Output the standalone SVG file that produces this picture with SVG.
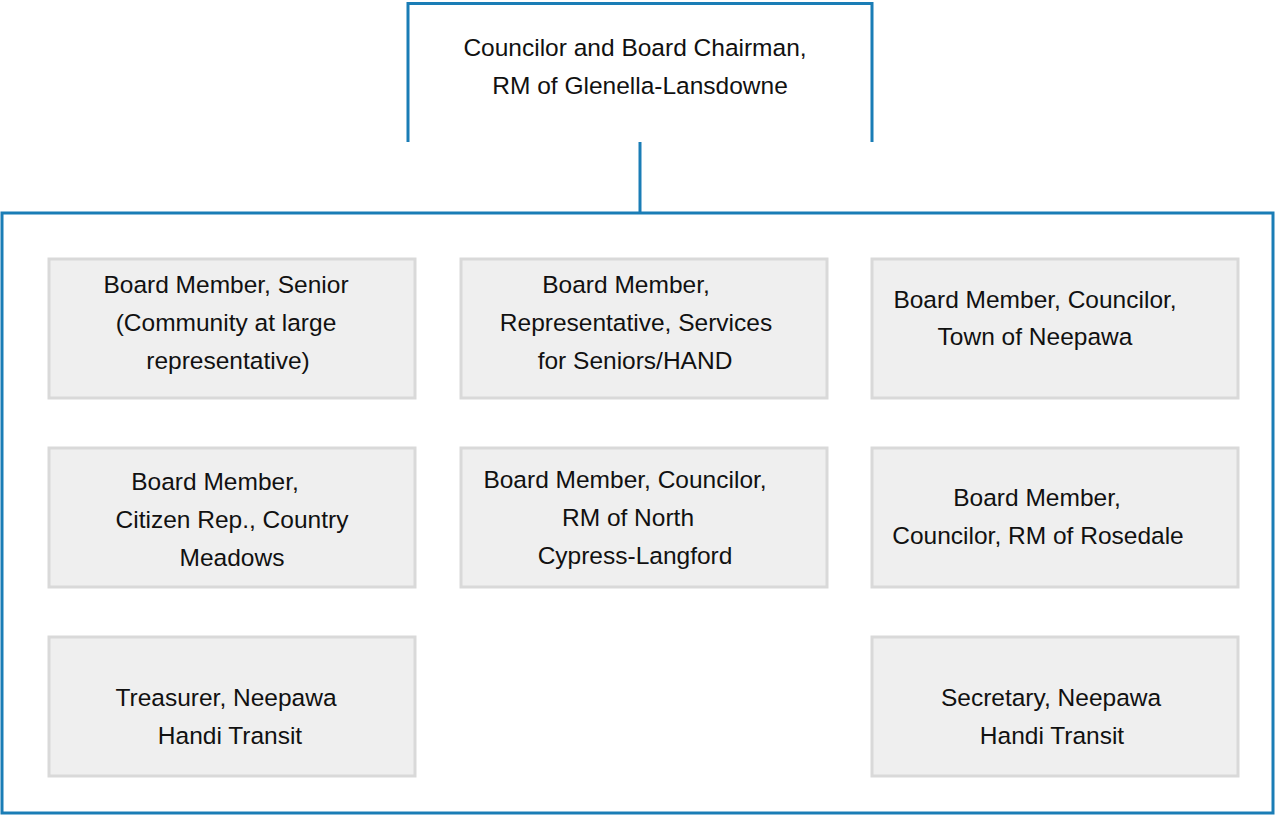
<svg xmlns="http://www.w3.org/2000/svg" width="1276" height="816" viewBox="0 0 1276 816">
  <style>
    .frame { fill: none; stroke: #1a7db6; stroke-width: 3; }
    .box { fill: #efefef; stroke: #d9d9d9; stroke-width: 3; }
    .lbl { font-family: "Liberation Sans", Arial, sans-serif; font-size: 24.5px; fill: #111; text-anchor: middle; }
  </style>
  <rect width="1276" height="816" fill="#ffffff"/>

  <!-- chairman bracket (open at the bottom) -->
  <g id="chairman">
    <path class="frame" d="M408,142 V3.5 H872 V142"/>
    <text class="lbl" x="635" y="56">Councilor and Board Chairman,</text>
    <text class="lbl" x="640" y="94">RM of Glenella-Lansdowne</text>
  </g>

  <g id="connectors">
    <line class="frame" x1="640" y1="142" x2="640" y2="213"/>
  </g>

  <!-- board frame -->
  <g id="board">
    <rect class="frame" x="2" y="213" width="1271" height="600"/>
  </g>

  <g id="member-senior">
    <rect class="box" x="49" y="259" width="366" height="139"/>
    <text class="lbl" x="226" y="293">Board Member, Senior</text>
    <text class="lbl" x="226" y="331">(Community at large</text>
    <text class="lbl" x="228" y="369">representative)</text>
  </g>

  <g id="member-services">
    <rect class="box" x="461" y="259" width="366" height="139"/>
    <text class="lbl" x="626" y="293">Board Member,</text>
    <text class="lbl" x="636" y="331">Representative, Services</text>
    <text class="lbl" x="635" y="369">for Seniors/HAND</text>
  </g>

  <g id="member-neepawa">
    <rect class="box" x="872" y="259" width="366" height="139"/>
    <text class="lbl" x="1035" y="308">Board Member, Councilor,</text>
    <text class="lbl" x="1035" y="345">Town of Neepawa</text>
  </g>

  <g id="member-meadows">
    <rect class="box" x="49" y="448" width="366" height="139"/>
    <text class="lbl" x="215" y="490">Board Member,</text>
    <text class="lbl" x="232" y="528">Citizen Rep., Country</text>
    <text class="lbl" x="232" y="566">Meadows</text>
  </g>

  <g id="member-cypress">
    <rect class="box" x="461" y="448" width="366" height="139"/>
    <text class="lbl" x="625" y="488">Board Member, Councilor,</text>
    <text class="lbl" x="628" y="526">RM of North</text>
    <text class="lbl" x="635" y="564">Cypress-Langford</text>
  </g>

  <g id="member-rosedale">
    <rect class="box" x="872" y="448" width="366" height="139"/>
    <text class="lbl" x="1037" y="506">Board Member,</text>
    <text class="lbl" x="1038" y="544">Councilor, RM of Rosedale</text>
  </g>

  <g id="treasurer">
    <rect class="box" x="49" y="637" width="366" height="139"/>
    <text class="lbl" x="226" y="706">Treasurer, Neepawa</text>
    <text class="lbl" x="230" y="744">Handi Transit</text>
  </g>

  <g id="secretary">
    <rect class="box" x="872" y="637" width="366" height="139"/>
    <text class="lbl" x="1051" y="706">Secretary, Neepawa</text>
    <text class="lbl" x="1052" y="744">Handi Transit</text>
  </g>
</svg>
